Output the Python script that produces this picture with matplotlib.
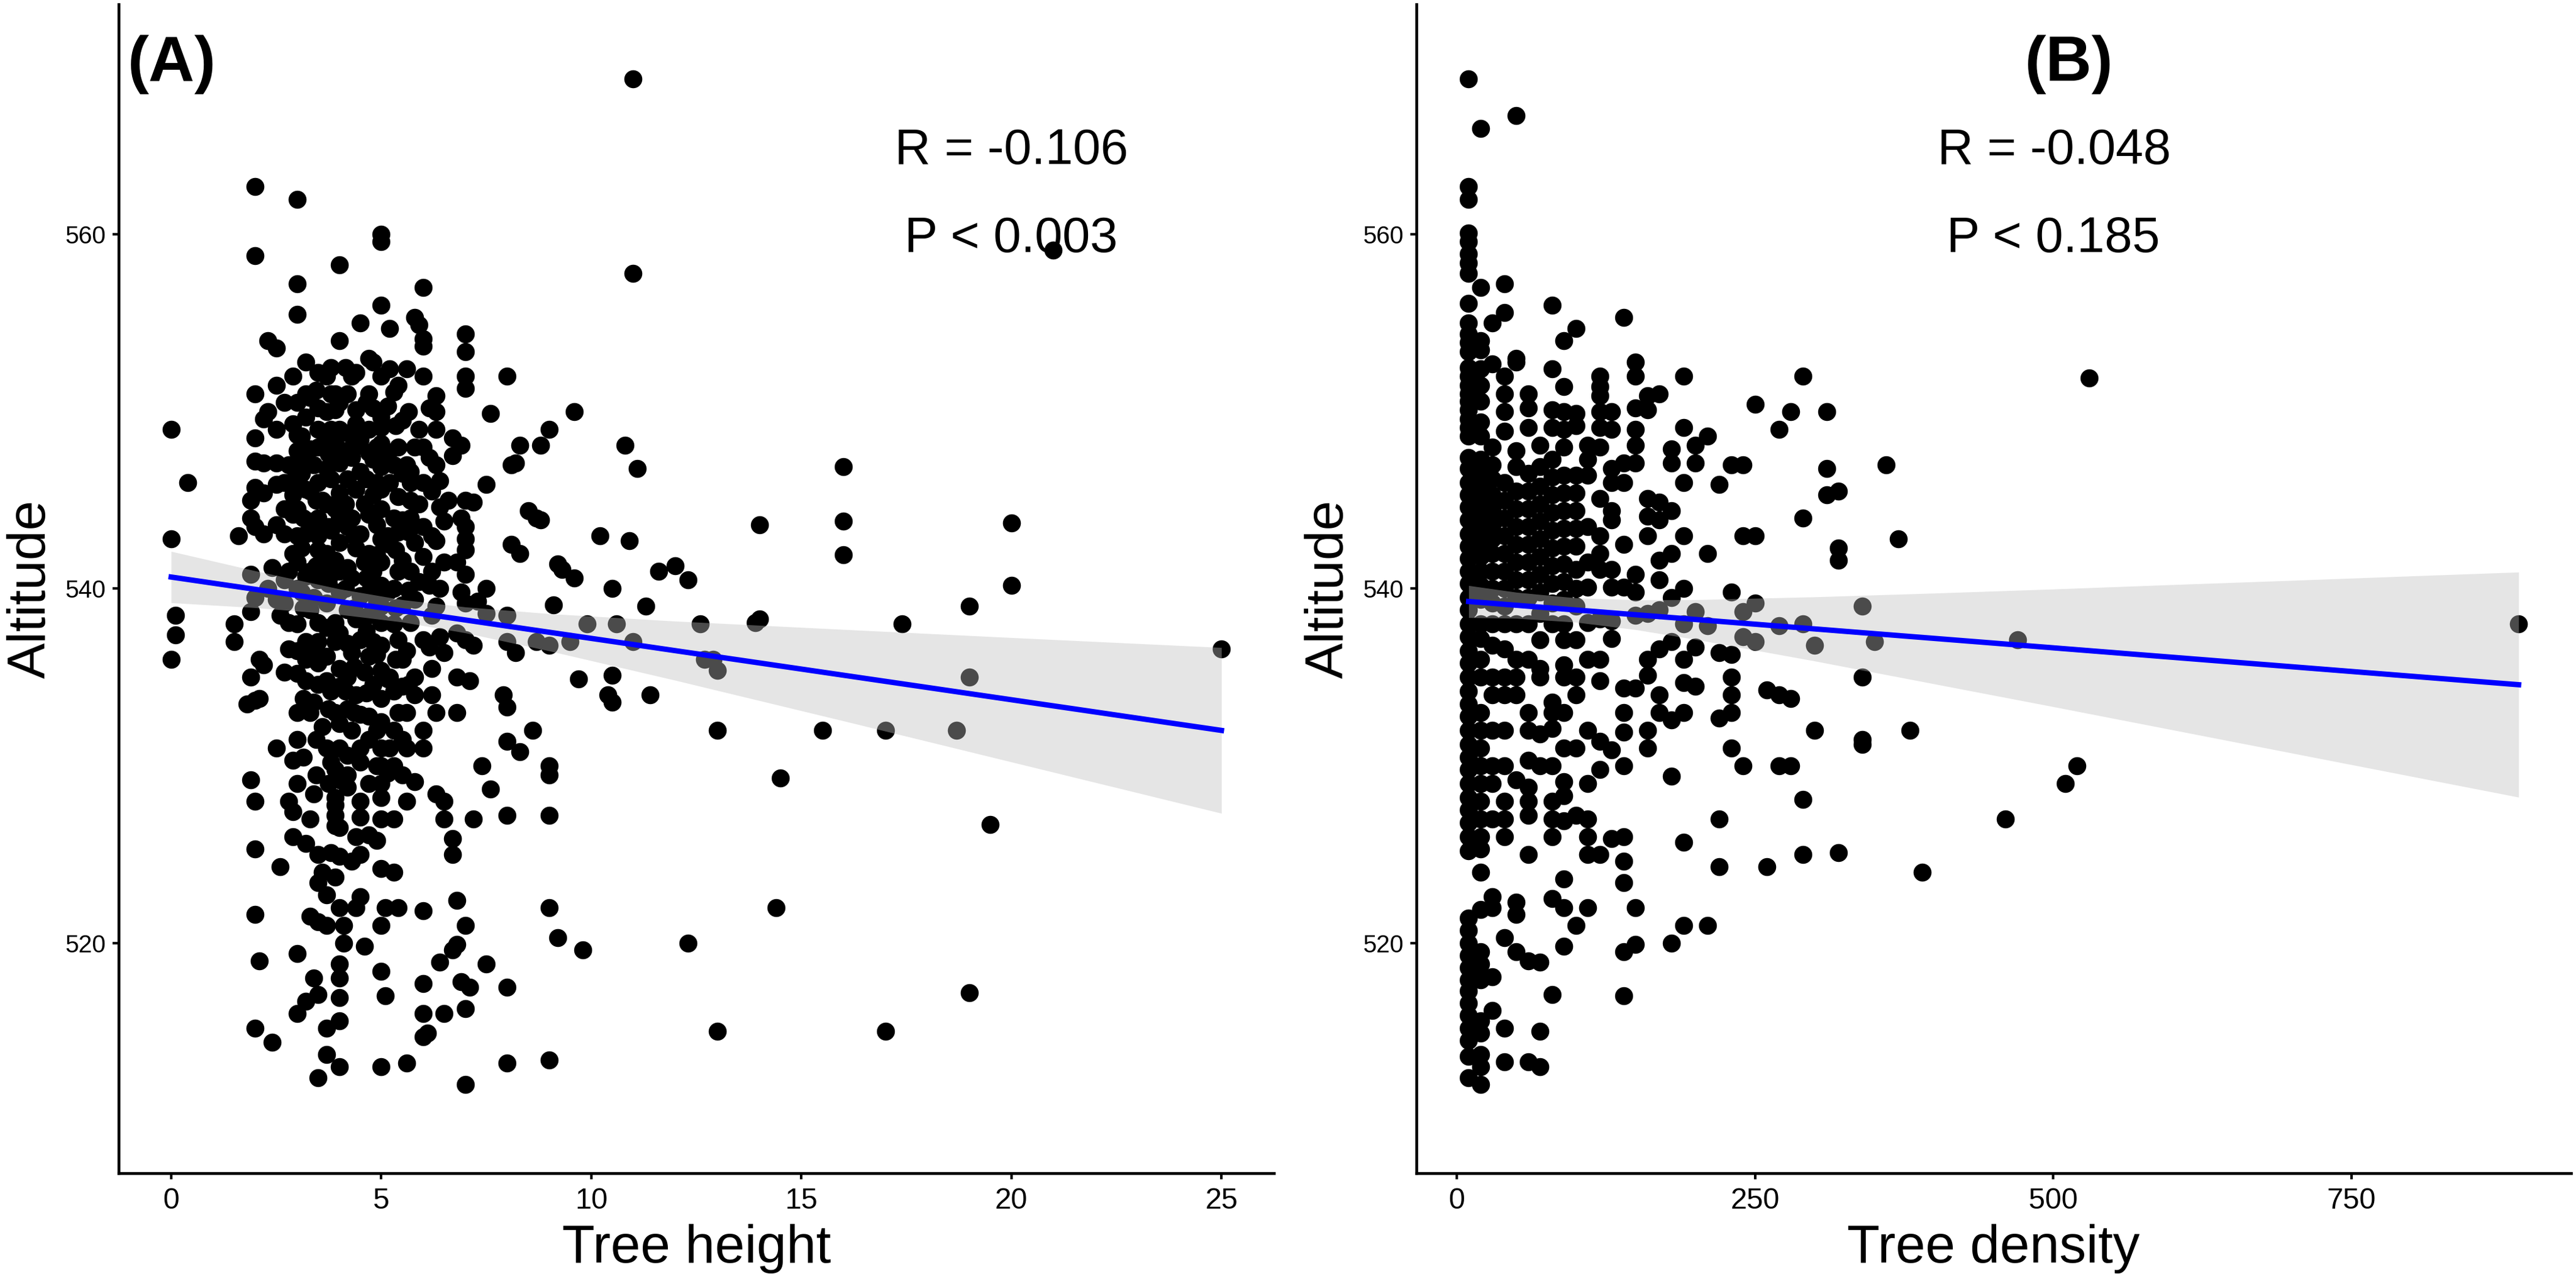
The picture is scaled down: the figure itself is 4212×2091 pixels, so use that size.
import matplotlib
matplotlib.use("Agg")
import matplotlib.pyplot as plt

plt.rcParams['font.family'] = ['Liberation Sans', 'DejaVu Sans']

# ---------------- panel A: altitude vs tree height ----------------
height_a = [
    0.0, 0.0, 0.0,
    0.1, 0.1,
    0.4,
    1.5, 1.5,
    1.6,
    1.8,
    1.9, 1.9, 1.9, 1.9, 1.9, 1.9,
    2.0, 2.0, 2.0, 2.0, 2.0, 2.0, 2.0, 2.0, 2.0, 2.0, 2.0, 2.0, 2.0,
    2.1, 2.1, 2.1,
    2.2, 2.2, 2.2, 2.2, 2.2,
    2.3, 2.3, 2.3,
    2.4, 2.4,
    2.5, 2.5, 2.5, 2.5, 2.5, 2.5, 2.5, 2.5,
    2.6, 2.6,
    2.7, 2.7, 2.7, 2.7, 2.7, 2.7, 2.7,
    2.8, 2.8, 2.8, 2.8, 2.8,
    2.9, 2.9, 2.9, 2.9, 2.9, 2.9, 2.9, 2.9, 2.9,
    3.0, 3.0, 3.0, 3.0, 3.0, 3.0, 3.0, 3.0, 3.0, 3.0, 3.0, 3.0, 3.0, 3.0, 3.0, 3.0, 3.0, 3.0, 3.0,
    3.1, 3.1, 3.1, 3.1,
    3.2, 3.2, 3.2, 3.2, 3.2, 3.2, 3.2, 3.2, 3.2, 3.2, 3.2,
    3.3, 3.3, 3.3, 3.3, 3.3, 3.3, 3.3, 3.3, 3.3,
    3.4, 3.4, 3.4, 3.4, 3.4, 3.4,
    3.5, 3.5, 3.5, 3.5, 3.5, 3.5, 3.5, 3.5, 3.5, 3.5, 3.5, 3.5, 3.5, 3.5, 3.5, 3.5, 3.5, 3.5,
    3.6, 3.6, 3.6, 3.6,
    3.7, 3.7, 3.7, 3.7, 3.7, 3.7, 3.7, 3.7, 3.7, 3.7, 3.7, 3.7, 3.7, 3.7, 3.7,
    3.8, 3.8, 3.8, 3.8, 3.8, 3.8, 3.8, 3.8, 3.8,
    3.9, 3.9, 3.9, 3.9, 3.9, 3.9, 3.9, 3.9, 3.9, 3.9, 3.9, 3.9, 3.9, 3.9,
    4.0, 4.0, 4.0, 4.0, 4.0, 4.0, 4.0, 4.0, 4.0, 4.0, 4.0, 4.0,
    4.0, 4.0, 4.0, 4.0, 4.0, 4.0, 4.0, 4.0, 4.0, 4.0, 4.0, 4.0,
    4.1, 4.1,
    4.2, 4.2, 4.2, 4.2, 4.2, 4.2, 4.2, 4.2, 4.2, 4.2, 4.2, 4.2,
    4.3, 4.3, 4.3, 4.3, 4.3, 4.3, 4.3,
    4.4, 4.4, 4.4, 4.4, 4.4, 4.4, 4.4, 4.4, 4.4,
    4.5, 4.5, 4.5, 4.5, 4.5, 4.5, 4.5, 4.5, 4.5, 4.5, 4.5, 4.5, 4.5,
    4.6, 4.6, 4.6, 4.6,
    4.7, 4.7, 4.7, 4.7, 4.7, 4.7, 4.7, 4.7, 4.7, 4.7, 4.7, 4.7, 4.7,
    4.8, 4.8, 4.8, 4.8, 4.8, 4.8, 4.8,
    4.9, 4.9, 4.9, 4.9, 4.9, 4.9, 4.9, 4.9, 4.9,
    5.0, 5.0, 5.0, 5.0, 5.0, 5.0, 5.0, 5.0, 5.0, 5.0, 5.0, 5.0, 5.0, 5.0,
    5.0, 5.0, 5.0, 5.0, 5.0, 5.0, 5.0, 5.0, 5.0, 5.0, 5.0, 5.0, 5.0, 5.0,
    5.1, 5.1,
    5.2, 5.2, 5.2, 5.2, 5.2, 5.2,
    5.3, 5.3, 5.3, 5.3, 5.3, 5.3, 5.3, 5.3, 5.3, 5.3,
    5.4, 5.4, 5.4, 5.4, 5.4, 5.4, 5.4, 5.4,
    5.5, 5.5, 5.5, 5.5, 5.5, 5.5, 5.5, 5.5, 5.5,
    5.6, 5.6, 5.6, 5.6, 5.6, 5.6, 5.6,
    5.7, 5.7, 5.7, 5.7, 5.7, 5.7,
    5.8, 5.8, 5.8, 5.8, 5.8, 5.8, 5.8,
    5.9, 5.9, 5.9, 5.9,
    6.0, 6.0, 6.0, 6.0, 6.0, 6.0, 6.0, 6.0, 6.0, 6.0, 6.0, 6.0, 6.0, 6.0, 6.0,
    6.1,
    6.2, 6.2, 6.2, 6.2, 6.2, 6.2,
    6.3, 6.3, 6.3, 6.3, 6.3, 6.3, 6.3, 6.3,
    6.4, 6.4, 6.4, 6.4, 6.4,
    6.5, 6.5, 6.5, 6.5, 6.5, 6.5,
    6.6,
    6.7, 6.7, 6.7, 6.7, 6.7,
    6.8, 6.8, 6.8, 6.8, 6.8, 6.8,
    6.9, 6.9, 6.9, 6.9,
    7.0, 7.0, 7.0, 7.0, 7.0, 7.0, 7.0, 7.0, 7.0, 7.0, 7.0, 7.0, 7.0, 7.0,
    7.1, 7.1,
    7.2, 7.2, 7.2,
    7.3,
    7.4,
    7.5, 7.5, 7.5, 7.5,
    7.6, 7.6,
    7.9,
    8.0, 8.0, 8.0, 8.0, 8.0, 8.0, 8.0, 8.0,
    8.1, 8.1,
    8.2, 8.2,
    8.3, 8.3, 8.3,
    8.5,
    8.6,
    8.7, 8.7,
    8.8, 8.8,
    9.0, 9.0, 9.0, 9.0, 9.0, 9.0, 9.0,
    9.1,
    9.2, 9.2,
    9.3,
    9.5,
    9.6, 9.6,
    9.7,
    9.8,
    9.9,
    10.2,
    10.4,
    10.5, 10.5, 10.5,
    10.6,
    10.8,
    10.9,
    11.0, 11.0, 11.0,
    11.1,
    11.3,
    11.4,
    11.6,
    12.0,
    12.3, 12.3,
    12.6,
    12.7,
    12.9,
    13.0, 13.0, 13.0,
    13.9,
    14.0, 14.0,
    14.4,
    14.5,
    15.5,
    16.0, 16.0, 16.0,
    17.0, 17.0,
    17.4,
    18.7,
    19.0, 19.0, 19.0,
    19.5,
    20.0, 20.0,
    21.0,
    25.0,
    # points hidden inside the dense core
    3.15, 3.15, 3.15, 3.15, 3.15,
    3.45, 3.45, 3.45, 3.45, 3.45,
    3.75, 3.75, 3.75, 3.75, 3.75,
    4.15, 4.15, 4.15, 4.15, 4.15,
    4.35, 4.35, 4.35, 4.35, 4.35,
    4.65, 4.65, 4.65, 4.65, 4.65,
    5.15, 5.15, 5.15, 5.15, 5.15, 5.15,
    5.35, 5.35, 5.35, 5.35,
    5.65, 5.65, 5.65, 5.65,
    6.15, 6.15, 6.15, 6.15,
]

altitude_a = [
    549.0, 542.8, 536.0,
    538.5, 537.4,
    546.0,
    538.0, 537.0,
    543.0,
    533.5,
    545.0, 544.0, 540.8, 538.7, 535.0, 529.2,
    562.7, 558.8, 551.0, 548.5, 547.2, 545.7, 543.5, 539.5, 533.7, 528.0, 525.3, 521.6, 515.2,
    536.0, 533.8, 519.0,
    549.6, 547.1, 545.4, 543.1, 535.7,
    554.0, 550.0, 540.0,
    541.2, 514.4,
    553.6, 551.5, 549.0, 547.1, 545.9, 543.6, 539.4, 531.0,
    538.5, 524.3,
    550.5, 546.0, 544.5, 543.1, 540.5, 539.2, 535.3,
    547.0, 541.0, 538.1, 536.6, 528.0,
    552.0, 549.3, 546.1, 545.3, 544.2, 542.0, 530.3, 527.4, 526.0,
    562.0, 557.2, 555.5, 550.5, 548.7, 547.8, 546.0, 544.5, 543.0, 541.5, 540.0, 538.0, 536.5, 535.2, 533.0, 531.5, 529.0, 519.4, 516.0,
    548.6, 546.5, 542.3, 539.8,
    552.8, 551.0, 549.7, 545.6, 543.1, 540.7, 537.0, 536.0, 534.8, 525.6, 516.7,
    550.8, 547.9, 545.5, 543.8, 541.0, 538.8, 533.0, 527.0, 521.5,
    547.0, 539.5, 536.6, 533.6, 528.4, 518.0,
    552.2, 550.2, 549.0, 548.0, 546.0, 544.0, 543.0, 542.2, 540.5, 538.1, 537.0, 535.8, 534.6, 525.0, 523.4, 521.2, 517.1, 512.4,
    545.0, 541.4, 532.2, 524.0,
    552.0, 550.0, 548.5, 546.8, 544.8, 542.0, 539.2, 537.8, 536.2, 534.8, 531.0, 522.7, 521.0, 515.2, 513.7,
    552.5, 551.0, 549.0, 546.2, 543.3, 540.8, 534.2, 530.2, 525.1,
    551.0, 550.1, 548.2, 544.5, 541.6, 538.1, 537.0, 533.0, 529.8, 528.2, 527.8, 527.2, 526.6, 523.7,
    558.3, 554.0, 550.5, 549.0, 547.1, 545.4, 544.0, 542.6, 541.0, 539.8, 537.5, 535.5,
    534.5, 532.4, 531.0, 529.2, 526.5, 524.9, 522.0, 518.8, 518.0, 516.9, 515.6, 513.0,
    521.0, 520.0,
    551.0, 548.8, 546.2, 543.5, 541.2, 538.8, 536.9, 535.0, 533.2, 530.6, 529.5, 528.8,
    552.0, 547.4, 544.0, 540.6, 536.4, 532.0, 524.6,
    552.2, 550.1, 549.3, 545.6, 542.3, 538.3, 534.0, 526.0, 522.0,
    555.0, 548.4, 546.6, 543.1, 539.6, 537.1, 532.9, 531.0, 530.2, 528.0, 527.1, 525.0, 522.6,
    544.8, 541.5, 535.3, 519.8,
    553.0, 551.0, 549.0, 547.7, 544.2, 542.0, 539.8, 538.5, 536.2, 532.8, 531.5, 529.0, 526.1,
    552.8, 550.2, 547.3, 545.3, 541.0, 537.0, 534.6,
    548.0, 546.0, 543.6, 541.9, 539.3, 536.3, 532.0, 530.0, 525.8,
    560.0, 559.6, 556.0, 552.0, 549.7, 549.1, 548.2, 546.9, 545.6, 544.5, 542.8, 541.5, 540.2, 539.0,
    538.1, 536.8, 535.4, 533.8, 532.5, 531.0, 530.0, 529.0, 528.2, 527.0, 524.2, 521.0, 518.4, 513.0,
    522.0, 517.0,
    554.7, 552.4, 546.0, 542.5, 535.0, 531.0,
    551.1, 547.0, 544.0, 540.0, 538.0, 534.2, 532.0, 530.0, 527.0, 524.0,
    551.5, 548.0, 545.2, 543.2, 541.0, 537.1, 533.0, 522.0,
    549.5, 546.5, 543.9, 541.6, 539.1, 536.0, 534.5, 531.5, 529.5,
    552.4, 547.0, 536.5, 533.0, 531.0, 528.0, 513.2,
    546.6, 546.0, 545.0, 544.0, 541.0, 538.1,
    555.3, 548.0, 542.6, 539.4, 535.0, 534.0, 529.1,
    554.9, 549.0, 544.8, 540.4,
    557.0, 554.1, 553.7, 552.0, 548.0, 546.0, 543.5, 541.8, 537.1, 532.0, 531.0, 521.8, 517.7, 516.0, 514.7,
    514.9,
    545.5, 543.0, 541.0, 538.5, 535.5, 534.0,
    550.9, 550.0, 549.0, 547.0, 542.7, 539.0, 533.0, 528.4,
    546.1, 544.6, 540.0, 537.3, 518.9,
    543.8, 541.5, 536.4, 528.0, 527.0, 516.0,
    545.0,
    548.5, 547.5, 525.9, 525.0, 519.6,
    541.5, 537.5, 535.0, 533.0, 522.4, 519.9,
    548.1, 544.0, 539.8, 517.8,
    554.4, 553.4, 552.0, 551.3, 545.0, 543.5, 542.8, 542.2, 540.8, 539.2, 537.1, 521.0, 516.3, 512.0,
    534.8, 517.5,
    544.9, 536.8, 527.0,
    539.3,
    530.0,
    545.9, 540.0, 538.6, 518.8,
    549.9, 528.7,
    534.0,
    552.0, 538.5, 537.0, 533.3, 531.4, 527.2, 517.5, 513.2,
    547.0, 542.5,
    547.1, 536.4,
    548.1, 542.0, 530.8,
    544.4,
    532.0,
    544.0, 537.0,
    548.1, 543.9,
    549.0, 536.8, 530.0, 529.5, 527.2, 522.0, 513.4,
    539.1,
    541.4, 520.3,
    541.1,
    537.0,
    550.0, 540.6,
    534.9,
    519.6,
    538.0,
    543.0,
    534.0,
    540.0, 535.1, 533.6,
    538.0,
    548.1,
    542.7,
    568.8, 557.8, 537.0,
    546.8,
    539.0,
    534.0,
    541.0,
    541.3,
    540.5, 520.0,
    538.0,
    536.0,
    536.0,
    535.4, 532.0, 515.0,
    538.1,
    543.6, 538.3,
    522.0,
    529.3,
    532.0,
    546.9, 543.8, 541.9,
    532.0, 515.0,
    538.0,
    532.0,
    539.0, 535.0, 517.2,
    526.7,
    543.7, 540.2,
    559.1,
    536.6,
    # points hidden inside the dense core
    547.2, 544.0, 538.9, 533.8, 530.5,
    551.2, 545.0, 541.3, 531.5, 529.5,
    547.6, 543.5, 540.3, 533.2, 529.0,
    552.5, 547.8, 544.8, 540.0, 534.2,
    548.0, 543.0, 538.9, 535.6, 533.0,
    550.5, 546.2, 540.6, 537.6, 534.1,
    550.3, 547.6, 543.0, 539.8, 534.9, 529.6,
    549.2, 542.2, 538.9, 536.0,
    550.0, 543.2, 539.9, 534.6,
    550.2, 547.4, 540.2, 536.7,
]

# fitted line and 95% band
fit_x_a = [0, 25]
fit_y_a = [540.66, 532.00]
band_x_a = [0, 2, 4, 5.5, 7, 9, 12, 16, 20, 25]
band_hi_a = [542.11, 541.01, 539.99, 539.38, 538.97, 538.59, 538.17, 537.70, 537.24, 536.68]
band_lo_a = [539.21, 538.93, 538.55, 538.12, 537.51, 536.49, 534.83, 532.54, 530.22, 527.32]

# ---------------- panel B: altitude vs tree density ----------------
density_b = [
    10, 10, 10, 10, 10, 10, 10, 10, 10, 10, 10, 10, 10, 10, 10, 10, 10, 10, 10, 10, 10, 10,
    10, 10, 10, 10, 10, 10, 10, 10, 10, 10, 10, 10, 10, 10, 10, 10, 10, 10, 10, 10, 10, 10,
    10, 10, 10, 10, 10, 10, 10, 10, 10, 10, 10, 10, 10, 10, 10, 10, 10, 10, 10, 10, 10, 10,
    20, 20, 20, 20, 20, 20, 20, 20, 20, 20, 20, 20, 20, 20, 20, 20, 20, 20, 20, 20, 20, 20,
    20, 20, 20, 20, 20, 20, 20, 20, 20, 20, 20, 20, 20, 20, 20, 20, 20, 20, 20, 20, 20, 20,
    30, 30, 30, 30, 30, 30, 30, 30, 30, 30, 30, 30, 30, 30, 30, 30, 30, 30, 30, 30, 30, 30, 30, 30, 30,
    40, 40, 40, 40, 40, 40, 40, 40, 40, 40, 40, 40, 40, 40, 40, 40, 40, 40, 40, 40, 40, 40, 40, 40, 40, 40,
    50, 50, 50, 50, 50, 50, 50, 50, 50, 50, 50, 50, 50, 50, 50, 50, 50, 50, 50, 50,
    60, 60, 60, 60, 60, 60, 60, 60, 60, 60, 60, 60, 60, 60, 60, 60, 60, 60, 60, 60, 60, 60,
    70, 70, 70, 70, 70, 70, 70, 70, 70, 70, 70, 70, 70, 70, 70, 70, 70, 70,
    80, 80, 80, 80, 80, 80, 80, 80, 80, 80, 80, 80, 80, 80, 80, 80, 80, 80, 80, 80, 80, 80, 80,
    90, 90, 90, 90, 90, 90, 90, 90, 90, 90, 90, 90, 90, 90, 90, 90, 90, 90, 90, 90, 90, 90, 90, 90, 90,
    100, 100, 100, 100, 100, 100, 100, 100, 100, 100, 100, 100, 100, 100, 100, 100, 100,
    110, 110, 110, 110, 110, 110, 110, 110, 110, 110, 110, 110, 110, 110,
    120, 120, 120, 120, 120, 120, 120, 120, 120, 120, 120, 120, 120, 120, 120, 120,
    130, 130, 130, 130, 130, 130, 130, 130, 130, 130, 130, 130,
    140, 140, 140, 140, 140, 140, 140, 140, 140, 140, 140, 140, 140, 140,
    150, 150, 150, 150, 150, 150, 150, 150, 150, 150, 150, 150,
    160, 160, 160, 160, 160, 160, 160, 160, 160, 160,
    170, 170, 170, 170, 170, 170, 170, 170, 170,
    180, 180, 180, 180, 180, 180, 180, 180, 180,
    190, 190, 190, 190, 190, 190, 190, 190, 190, 190, 190,
    200, 200, 200, 200, 200,
    210, 210, 210, 210,
    220, 220, 220, 220, 220,
    230, 230, 230, 230, 230, 230, 230,
    240, 240, 240, 240, 240,
    250, 250, 250, 250,
    260, 260,
    270, 270, 270, 270,
    280, 280, 280,
    290, 290, 290, 290, 290,
    300, 300,
    310, 310, 310,
    320, 320, 320, 320,
    340, 340, 340, 340,
    350, 360, 370, 380, 390, 460, 470, 510, 520, 530, 890,
]

altitude_b = [
    568.8, 562.7, 562.0, 560.1, 559.6, 558.9, 558.4, 557.8, 556.1, 555.0, 554.4, 553.9, 553.4, 552.5, 552.0, 551.5, 551.0, 550.6, 550.1, 549.6, 549.1, 548.6,
    547.4, 546.8, 546.0, 545.3, 544.6, 543.9, 543.1, 542.4, 541.7, 541.0, 540.3, 539.5, 538.8, 538.0, 537.3, 536.5, 535.8, 535.0, 534.2, 533.5, 532.8, 532.0,
    531.2, 530.5, 529.8, 529.0, 528.2, 527.5, 526.8, 526.0, 525.2, 521.4, 520.7, 520.0, 519.3, 518.6, 517.9, 517.3, 516.6, 515.9, 515.2, 514.5, 513.6, 512.4,
    566.0, 557.0, 554.0, 553.5, 552.4, 551.5, 550.6, 549.4, 548.6, 547.3, 546.5, 545.7, 545.0, 544.2, 543.4, 542.6, 541.8, 541.0, 540.2, 539.4, 538.0, 537.2,
    536.0, 535.0, 533.0, 532.0, 531.0, 530.0, 529.0, 528.0, 527.0, 526.0, 525.3, 524.0, 521.9, 519.5, 518.8, 518.2, 517.9, 515.6, 514.9, 513.7, 513.0, 512.0,
    555.0, 552.7, 548.0, 547.0, 546.2, 545.3, 544.5, 543.6, 542.8, 542.0, 541.0, 540.0, 539.2, 538.0, 536.8, 535.0, 534.0, 532.0, 530.0, 529.0, 527.0, 522.6, 522.0, 518.1, 516.2,
    557.2, 555.6, 552.0, 551.0, 550.0, 548.9, 546.0, 545.0, 544.0, 543.0, 542.0, 541.0, 540.0, 539.0, 538.0, 536.6, 535.0, 534.0, 532.0, 530.0, 528.0, 527.0, 526.0, 520.3, 515.2, 513.3,
    566.7, 553.0, 552.8, 547.8, 546.9, 545.5, 544.5, 543.5, 542.5, 541.5, 540.5, 539.5, 538.0, 536.0, 535.0, 534.0, 529.2, 522.3, 521.6, 519.5,
    551.0, 550.2, 549.1, 546.5, 545.5, 544.5, 543.5, 542.5, 541.5, 540.5, 539.5, 538.0, 536.0, 533.0, 532.0, 530.3, 528.8, 528.0, 527.2, 525.0, 519.0, 513.3,
    548.1, 546.9, 545.8, 544.8, 543.8, 542.8, 541.8, 540.8, 539.8, 538.6, 537.1, 535.5, 535.0, 531.8, 530.0, 518.9, 515.0, 513.0,
    556.0, 552.4, 550.1, 549.1, 547.3, 546.3, 545.3, 544.3, 543.3, 542.3, 541.3, 540.3, 539.2, 538.0, 533.6, 533.0, 532.1, 530.0, 528.0, 527.0, 526.0, 522.5, 517.1,
    554.0, 551.4, 550.0, 549.0, 548.0, 546.4, 545.4, 544.4, 543.4, 542.4, 541.4, 540.4, 539.4, 538.0, 537.1, 535.7, 535.0, 533.0, 531.0, 529.1, 528.3, 526.9, 523.6, 522.0, 519.8,
    554.7, 549.9, 549.2, 546.4, 545.4, 544.4, 543.4, 542.4, 541.1, 540.0, 539.0, 537.1, 535.0, 534.0, 531.0, 527.2, 521.0,
    548.1, 547.3, 546.4, 543.5, 541.5, 540.1, 538.1, 536.0, 532.0, 529.0, 527.0, 526.0, 525.0, 522.0,
    552.0, 551.4, 550.9, 550.0, 549.1, 548.0, 545.1, 543.0, 542.0, 541.1, 538.3, 536.0, 534.8, 531.4, 529.8, 525.0,
    550.0, 549.0, 546.8, 546.0, 544.4, 543.9, 541.1, 540.1, 538.2, 537.2, 530.9, 525.9,
    555.3, 547.1, 546.0, 542.5, 540.1, 534.4, 533.0, 531.9, 530.0, 526.0, 524.6, 523.4, 519.5, 517.0,
    552.8, 552.0, 550.2, 549.0, 548.1, 547.1, 540.8, 539.8, 538.5, 534.4, 522.0, 519.9,
    550.9, 550.1, 545.1, 544.1, 543.0, 538.6, 536.0, 535.1, 532.0, 531.0,
    551.0, 544.9, 543.9, 541.6, 540.5, 538.8, 536.6, 534.0, 533.0,
    547.9, 547.1, 544.4, 542.0, 539.5, 537.0, 532.6, 529.4, 520.0,
    552.0, 549.1, 546.0, 543.0, 540.0, 538.0, 536.0, 534.7, 533.0, 525.7, 521.0,
    548.1, 547.1, 538.7, 536.7, 534.5,
    548.6, 542.0, 537.9, 521.0,
    545.9, 536.4, 532.7, 527.0, 524.3,
    547.0, 539.8, 536.3, 535.0, 534.0, 533.0, 531.0,
    547.0, 543.0, 538.7, 537.3, 530.0,
    550.4, 543.0, 539.2, 537.0,
    534.3, 524.3,
    549.0, 537.9, 534.0, 530.0,
    550.0, 533.8, 530.0,
    552.0, 544.0, 538.0, 528.1, 525.0,
    536.8, 532.0,
    550.0, 546.8, 545.3,
    545.5, 542.3, 541.6, 525.1,
    539.0, 535.0, 531.5, 531.2,
    537.0, 547.0, 542.8, 532.0, 524.0, 527.0, 537.1, 529.0, 530.0, 551.9, 538.0,
]

# fitted line and 95% band
fit_x_b = [10, 890]
fit_y_b = [539.28, 534.58]
band_x_b = [10, 50, 100, 150, 200, 300, 400, 500, 600, 700, 800, 890]
band_hi_b = [540.18, 539.80, 539.48, 539.37, 539.38, 539.54, 539.75, 539.98, 540.23, 540.47, 540.72, 540.94]
band_lo_b = [538.37, 538.33, 538.11, 537.69, 537.14, 535.92, 534.63, 533.34, 532.03, 530.72, 529.41, 528.23]


def draw_panel(ax, x, y, fit_x, fit_y, band_x, band_lo, band_hi):
    ax.scatter(x, y, s=50, c='black', linewidths=0, zorder=2)
    ax.fill_between(band_x, band_lo, band_hi, color='#BEBEBE', alpha=0.4,
                    linewidth=0, zorder=3)
    ax.plot(fit_x, fit_y, color='#0000FF', linewidth=2.1, zorder=4)


def style_axes(ax, xlim, xticks, xlabel):
    ax.set_xlim(xlim)
    ax.set_ylim(507, 573)
    ax.set_xticks(xticks)
    ax.set_yticks([520, 540, 560])
    for side in ['top', 'right']:
        ax.spines[side].set_visible(False)
    for side in ['left', 'bottom']:
        ax.spines[side].set_linewidth(1.1)
    ax.tick_params(axis='both', length=2.4, width=1.0, color='black', labelcolor='black')
    ax.tick_params(axis='x', labelsize=11.6, pad=3.1)
    ax.tick_params(axis='y', labelsize=9.6, pad=2.6)
    ax.set_xlabel(xlabel, fontsize=21)
    ax.set_ylabel('Altitude', fontsize=21)
    ax.xaxis.set_label_coords(0.5, -0.0435)
    ax.yaxis.set_label_coords(-0.054, 0.5)


fig = plt.figure(figsize=(14.04, 6.97), dpi=300)
ax_a = fig.add_axes([0.04606, 0.08274, 0.44848, 0.91391])
ax_b = fig.add_axes([0.54974, 0.08274, 0.44836, 0.91391])

draw_panel(ax_a, height_a, altitude_a, fit_x_a, fit_y_a, band_x_a, band_lo_a, band_hi_a)
style_axes(ax_a, (-1.25, 26.25), [0, 5, 10, 15, 20, 25], 'Tree height')
ax_a.text(-1.04, 568.7, '(A)', ha='left', va='baseline', fontsize=25, fontweight='bold')
ax_a.text(20, 564.0, 'R = -0.106', ha='center', va='baseline', fontsize=19.5)
ax_a.text(20, 559.0, 'P < 0.003', ha='center', va='baseline', fontsize=19.5)

draw_panel(ax_b, density_b, altitude_b, fit_x_b, fit_y_b, band_x_b, band_lo_b, band_hi_b)
style_axes(ax_b, (-34, 934), [0, 250, 500, 750], 'Tree density')
ax_b.text(513, 568.7, '(B)', ha='center', va='baseline', fontsize=25, fontweight='bold')
ax_b.text(501, 564.0, 'R = -0.048', ha='center', va='baseline', fontsize=19.5)
ax_b.text(500, 559.0, 'P < 0.185', ha='center', va='baseline', fontsize=19.5)

fig.savefig('out.png', dpi=300)
